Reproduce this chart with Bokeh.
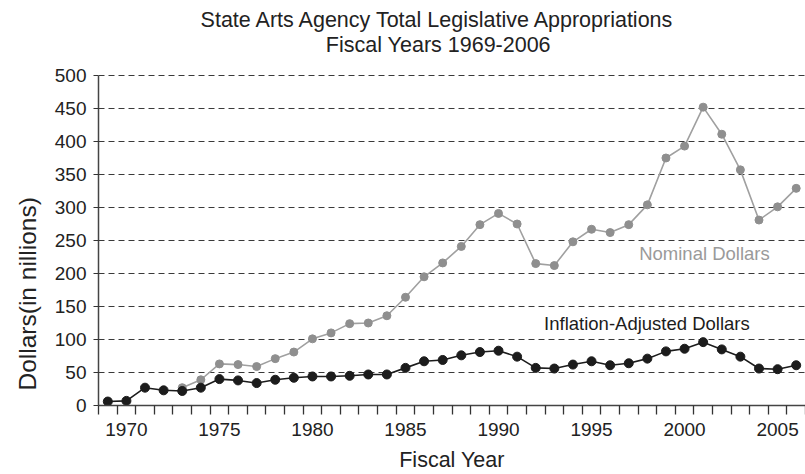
from bokeh.plotting import figure
from bokeh.models import Range1d, FixedTicker, Label, Title
from bokeh.embed import file_html
from bokeh.resources import INLINE

# ---- data ----
years = list(range(1969, 2007))
inflation_adjusted = [6, 7, 27, 23, 22, 27, 40, 38, 34, 39,
                      42, 44, 44, 45, 47, 47, 57, 67, 69, 76,
                      81, 83, 74, 57, 56, 62, 67, 61, 64, 71,
                      82, 86, 96, 85, 74, 56, 55, 61]
nominal_years = list(range(1973, 2007))
nominal = [27, 39, 63, 62, 59, 71, 81, 101, 110, 124,
           125, 136, 164, 195, 216, 241, 274, 291, 275, 215,
           212, 248, 267, 262, 274, 304, 375, 393, 452, 411,
           357, 281, 301, 329]
x_tick_years = [1970, 1975, 1980, 1985, 1990, 1995, 2000, 2005]
y_ticks = [0, 50, 100, 150, 200, 250, 300, 350, 400, 450, 500]

title_line1 = "State Arts Agency Total Legislative Appropriations"
title_line2 = "Fiscal Years 1969-2006"
y_label = "Dollars(in nillions)"
x_label = "Fiscal Year"
nominal_name = "Nominal Dollars"
inflation_name = "Inflation-Adjusted Dollars"

FONT = "Liberation Sans"
GRAY = "#a0a0a0"
DARK = "#1c1c1c"
TEXT = "#222222"

Y_TOP = 613.6   # headroom above the 500 gridline holds the title
p = figure(width=805, height=474, output_backend="svg", toolbar_location=None,
           x_range=Range1d(1968.5, 2006.5), y_range=Range1d(0, Y_TOP),
           min_border_left=97, min_border_right=0, min_border_top=0,
           min_border_bottom=69, title=None)
p.outline_line_color = None
p.background_fill_color = "white"
p.border_fill_color = "white"

# x axis: boundary ticks as minor ticks, labels at selected years
p.xaxis.ticker = FixedTicker(ticks=x_tick_years,
                             minor_ticks=[1968.5 + k for k in range(len(years) + 1)])
p.xaxis.major_tick_out = 0
p.xaxis.major_tick_in = 0
p.xaxis.minor_tick_out = 9
p.xaxis.minor_tick_in = 0
p.xaxis.minor_tick_line_color = "#333333"
p.xaxis.minor_tick_line_width = 1.3
p.xaxis.axis_line_color = "#444444"
p.xaxis.axis_line_width = 1.5
p.xaxis.major_label_text_font = FONT
p.xaxis.major_label_text_font_size = "19px"
p.xaxis.major_label_text_color = TEXT
p.xaxis.major_label_standoff = 8
p.xaxis.axis_label = x_label
p.xaxis.axis_label_text_font = FONT
p.xaxis.axis_label_text_font_size = "21.5px"
p.xaxis.axis_label_text_font_style = "normal"
p.xaxis.axis_label_text_color = TEXT
p.xaxis.axis_label_standoff = 9

p.yaxis.ticker = FixedTicker(ticks=y_ticks, minor_ticks=[])
p.yaxis.bounds = (0, 500)
p.yaxis.major_tick_out = 5
p.yaxis.major_tick_in = 0
p.yaxis.major_tick_line_color = "#333333"
p.yaxis.axis_line_color = "#444444"
p.yaxis.axis_line_width = 1.5
p.yaxis.major_label_text_font = FONT
p.yaxis.major_label_text_font_size = "19px"
p.yaxis.major_label_text_color = TEXT
p.yaxis.major_label_standoff = 7

p.xgrid.visible = False
p.ygrid.grid_line_color = "#3a3a3a"
p.ygrid.grid_line_dash = "6 4"
p.ygrid.grid_line_width = 1

# y axis title on the left, starting just above the x axis
p.add_layout(Title(text=y_label, text_font=FONT, text_font_size="24.5px",
                   text_font_style="normal", text_color=TEXT,
                   align="left", offset=15, standoff=22), "left")

# series
p.line(nominal_years, nominal, line_color=GRAY, line_width=1.6)
p.scatter(nominal_years, nominal, size=8, fill_color="#8f8f8f", line_color="#8f8f8f")
p.line(years, inflation_adjusted, line_color=DARK, line_width=1.6)
p.scatter(years, inflation_adjusted, size=9, fill_color=DARK, line_color=DARK)

# chart title (two lines) in the headroom
for txt, yy in ((title_line1, 584.8), (title_line2, 545.5)):
    p.add_layout(Label(x=1986.77, y=yy, text=txt, text_font=FONT,
                       text_font_size="21.5px", text_color=TEXT,
                       text_align="center", text_baseline="middle"))

# series labels
p.add_layout(Label(x=1997.56, y=230, text=nominal_name, text_font=FONT,
                   text_font_size="18.5px", text_color="#9a9a9a",
                   text_align="left", text_baseline="middle"))
p.add_layout(Label(x=1992.45, y=124, text=inflation_name, text_font=FONT,
                   text_font_size="18.5px", text_color=DARK,
                   text_align="left", text_baseline="middle"))

open("out.html", "w").write(file_html(p, INLINE))
